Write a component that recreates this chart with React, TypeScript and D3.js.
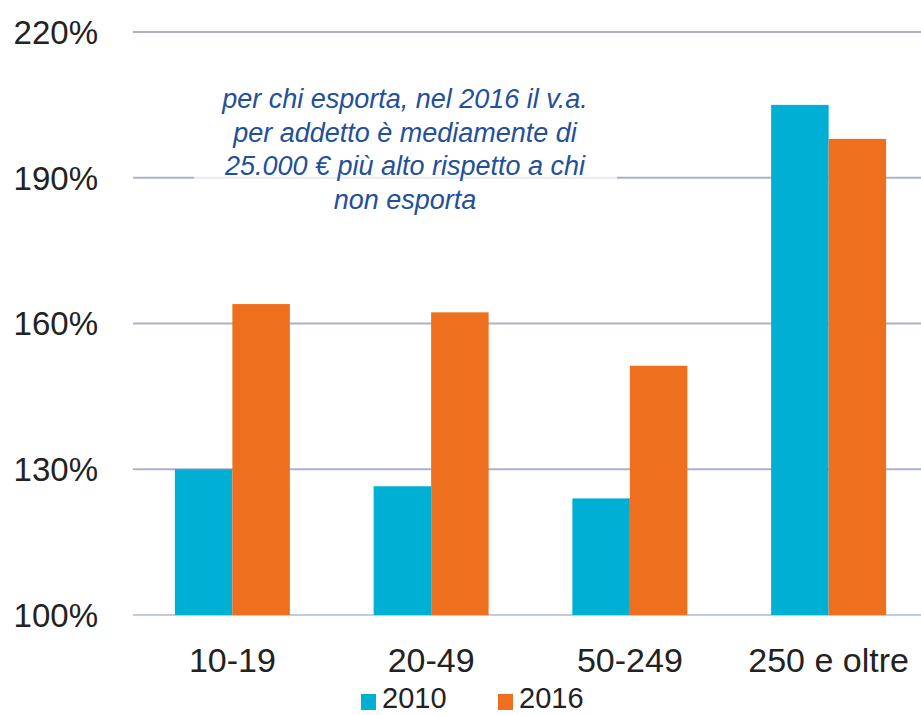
import React, { useEffect, useRef } from "react";
import * as d3 from "d3";

const categories = ["10-19", "20-49", "50-249", "250 e oltre"];
const seriesNames = ["2010", "2016"];
const values2010 = [130, 126.5, 124, 205];
const values2016 = [164, 162.3, 151.3, 198];
const yTicks = [100, 130, 160, 190, 220];
const noteLines = [
  "per chi esporta, nel 2016 il v.a.",
  "per addetto è mediamente di",
  "25.000 € più alto rispetto a chi",
  "non esporta",
];

const colors = ["#00b0d4", "#ee6f1e"];

const App = () => {
  const ref = useRef<SVGSVGElement | null>(null);

  useEffect(() => {
    draw();
  });

  const draw = () => {
    const width = 921;
    const height = 715;
    const svg = d3.select(ref.current);
    svg.selectAll("*").remove();

    const font = "'Liberation Sans', Arial, sans-serif";

    const x = d3.scaleBand().domain(categories).range([133, 928]).paddingInner(0).paddingOuter(0);
    const xSeries = d3.scaleBand().domain(seriesNames).range([0, 115]);
    const y = d3.scaleLinear().domain([100, 220]).range([615, 32]);

    // gridlines
    svg
      .append("g")
      .selectAll("line")
      .data(yTicks)
      .join("line")
      .attr("x1", 133)
      .attr("x2", width)
      .attr("y1", (d) => y(d))
      .attr("y2", (d) => y(d))
      .attr("stroke", (d) => (d === 100 ? "#c3cbe0" : "#adb0c6"))
      .attr("stroke-width", 2);

    // y labels
    svg
      .append("g")
      .selectAll("text")
      .data(yTicks)
      .join("text")
      .attr("x", 98)
      .attr("y", (d) => y(d))
      .attr("dy", "0.36em")
      .attr("text-anchor", "end")
      .attr("font-family", font)
      .attr("font-size", 33)
      .attr("fill", "#222")
      .text((d) => `${d}%`);

    // note box, partly hiding the gridline
    svg
      .append("rect")
      .attr("x", 194)
      .attr("y", 84)
      .attr("width", 423)
      .attr("height", 132)
      .attr("fill", "#fff")
      .attr("opacity", 0.75);

    const note = svg
      .append("text")
      .attr("font-family", font)
      .attr("font-style", "italic")
      .attr("font-size", 27)
      .attr("fill", "#234f9b")
      .attr("text-anchor", "middle");
    noteLines.forEach((l, i) => {
      note.append("tspan").attr("x", 405).attr("y", 108 + i * 33.5).text(l);
    });

    // bars
    const groups = svg
      .append("g")
      .selectAll("g")
      .data(categories)
      .join("g")
      .attr("transform", (d) => `translate(${(x(d) as number) + x.bandwidth() / 2 - 57.5},0)`);

    groups
      .selectAll("rect")
      .data((_, i) => [values2010[i], values2016[i]].map((v, s) => ({ v, s })))
      .join("rect")
      .attr("x", (d) => xSeries(seriesNames[d.s]) as number)
      .attr("width", xSeries.bandwidth())
      .attr("y", (d) => y(d.v))
      .attr("height", (d) => y(100) - y(d.v))
      .attr("fill", (d) => colors[d.s]);

    // category labels
    svg
      .append("g")
      .selectAll("text")
      .data(categories)
      .join("text")
      .attr("x", (d) => (x(d) as number) + x.bandwidth() / 2)
      .attr("y", 672)
      .attr("text-anchor", "middle")
      .attr("font-family", font)
      .attr("font-size", 34)
      .attr("fill", "#222")
      .text((d) => d);

    // legend
    const legend = svg.append("g");
    const legendX = [361, 498];
    seriesNames.forEach((n, i) => {
      legend
        .append("rect")
        .attr("x", legendX[i])
        .attr("y", 694)
        .attr("width", 15)
        .attr("height", 16)
        .attr("fill", colors[i]);
      legend
        .append("text")
        .attr("x", legendX[i] + 21)
        .attr("y", 708)
        .attr("font-family", font)
        .attr("font-size", 29)
        .attr("fill", "#222")
        .text(n);
    });

    svg.attr("width", width).attr("height", height);
  };

  return (
    <svg
      ref={ref}
      style={{ position: "absolute", left: 0, top: 0, background: "#fff", display: "block" }}
    />
  );
};

export default App;
